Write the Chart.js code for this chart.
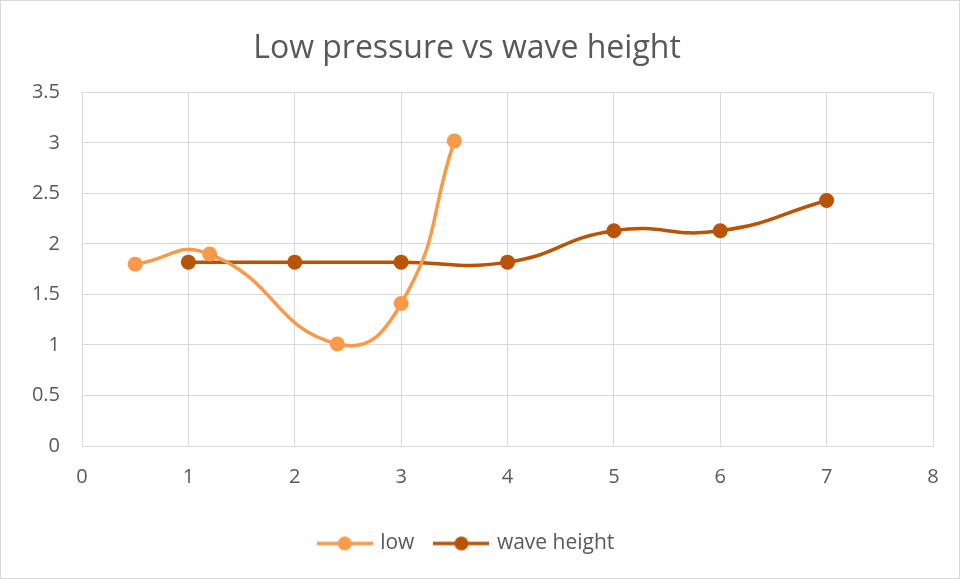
<!DOCTYPE html>
<html>
<head>
<meta charset="utf-8">
<script src="https://cdn.jsdelivr.net/npm/chart.js@4"></script>
<style>
  html, body { margin: 0; padding: 0; background: #fff; }
  #wrap { position: relative; width: 960px; height: 579px; box-sizing: border-box; border: 1px solid #d9d9d9; }
</style>
</head>
<body>
<div id="wrap"><canvas id="chart" width="958" height="577"></canvas></div>
<script>
// Low pressure vs wave height (scatter with smoothed lines)
const lowX = [0.5, 1.2, 2.4, 3.0, 3.5];
const lowY = [1.8, 1.9, 1.01, 1.41, 3.02];
const waveX = [1, 2, 3, 4, 5, 6, 7];
const waveY = [1.82, 1.82, 1.82, 1.82, 2.13, 2.13, 2.43];
const seriesNames = ["low", "wave height"];
const seriesColors = ["#F79A4A", "#B95407"];

const toPoints = (xs, ys) => xs.map((x, i) => ({ x: x, y: ys[i] }));

// legend swatch: short line with a dot in the middle, like Excel
function legendIcon(color) {
    const c = document.createElement("canvas");
    c.width = 56; c.height = 16;
    const ctx = c.getContext("2d");
    ctx.strokeStyle = color;
    ctx.lineWidth = 3.5;
    ctx.beginPath();
    ctx.moveTo(0, 8); ctx.lineTo(56, 8);
    ctx.stroke();
    ctx.fillStyle = color;
    ctx.beginPath();
    ctx.arc(28, 8, 7, 0, Math.PI * 2);
    ctx.fill();
    return c;
}

const font = "'Open Sans', 'Noto Sans', sans-serif";
const textColor = "#595959";

const data = {
    datasets: [
        { label: seriesNames[0], data: toPoints(lowX, lowY), borderColor: seriesColors[0], backgroundColor: seriesColors[0] },
        { label: seriesNames[1], data: toPoints(waveX, waveY), borderColor: seriesColors[1], backgroundColor: seriesColors[1] },
    ],
};

data.datasets.forEach(ds => {
    ds.legendIcon = legendIcon(ds.borderColor);
    ds.pointStyle = "circle";
    ds.showLine = true;
    ds.tension = 0.5;
    ds.borderWidth = 3.5;
    ds.pointRadius = 7.5;
    ds.pointHoverRadius = 7.5;
    ds.pointBorderWidth = 0;
});

const options = {
    responsive: false,
    animation: false,
    layout: { padding: { left: 0, right: 26, top: 14, bottom: 14 } },
    plugins: {
        title: {
            display: true,
            text: "Low pressure vs wave height",
            color: textColor,
            font: { family: font, size: 32, weight: "normal" },
            padding: { top: 15, bottom: 24 },
        },
        legend: {
            position: "bottom",
            labels: {
                usePointStyle: true,
                pointStyleWidth: 50,
                color: textColor,
                font: { family: font, size: 21 },
                padding: 22,
                generateLabels: (chart) => chart.data.datasets.map((ds, i) => ({
                    text: ds.label,
                    fillStyle: ds.borderColor,
                    strokeStyle: ds.borderColor,
                    fontColor: textColor,
                    lineWidth: 0,
                    pointStyle: ds.legendIcon,
                    datasetIndex: i,
                })),
            },
        },
        tooltip: { enabled: false },
    },
    scales: {
        x: {
            type: "linear",
            min: 0,
            max: 8,
            ticks: { stepSize: 1, color: textColor, font: { family: font, size: 20 }, padding: 19 },
            grid: { color: "#d9d9d9", drawTicks: false },
            border: { color: "#d9d9d9" },
            afterFit: (scale) => { scale.height = 65; },
        },
        y: {
            min: 0,
            max: 3.5,
            ticks: {
                stepSize: 0.5, color: textColor, font: { family: font, size: 20 }, padding: 22,
                callback: (v) => String(v),
            },
            grid: { color: "#d9d9d9", drawTicks: false },
            border: { color: "#d9d9d9" },
            afterFit: (scale) => { scale.width = 81; },
        },
    },
};

new Chart(document.getElementById("chart").getContext("2d"), {
    type: "scatter",
    data: data,
    options: options,
});
</script>
</body>
</html>
